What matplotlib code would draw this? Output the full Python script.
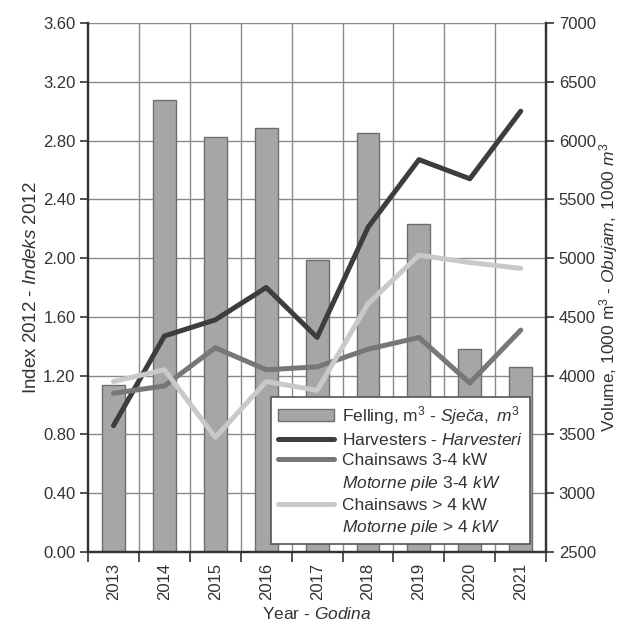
import numpy as np
import matplotlib
matplotlib.use('Agg')
from matplotlib import pyplot as plt
from matplotlib.patches import Patch
from matplotlib.lines import Line2D

plt.rcParams['font.family'] = ['Liberation Sans', 'DejaVu Sans']
plt.rcParams['mathtext.fontset'] = 'custom'
plt.rcParams['mathtext.rm'] = 'Liberation Sans'
plt.rcParams['mathtext.it'] = 'Liberation Sans:italic'

years = ['2013', '2014', '2015', '2016', '2017', '2018', '2019', '2020', '2021']
felling = [3920, 6345, 6030, 6105, 4985, 6065, 5290, 4230, 4075]
harvesters = [0.86, 1.47, 1.58, 1.80, 1.46, 2.21, 2.67, 2.54, 3.00]
saws_3_4 = [1.08, 1.13, 1.39, 1.24, 1.26, 1.38, 1.46, 1.15, 1.51]
saws_4 = [1.16, 1.24, 0.78, 1.16, 1.10, 1.69, 2.02, 1.97, 1.93]

x = np.arange(len(years))
bounds = np.arange(-0.5, len(years), 1.0)

fig = plt.figure(figsize=(6.2, 6.32), dpi=100)
ax = fig.add_axes([0.142, 0.1266, 0.739, 0.837])
ax2 = ax.twinx()
ax.set_zorder(ax2.get_zorder() + 1)
ax.patch.set_visible(False)

# bars on the right axis, grid behind them
ax2.bar(x, felling, width=0.45, bottom=0, color='#a6a6a9', edgecolor='#6e6e6e',
        linewidth=1, zorder=2)
ax2.set_ylim(2500, 7000)
ax2.set_yticks(np.arange(2500, 7001, 500))
ax2.set_axisbelow(True)
ax2.grid(True, axis='y', color='#8a8a8a', linewidth=1)
for b in bounds[1:]:
    ax2.axvline(b, color='#8a8a8a', linewidth=1, zorder=0.5)

ax.plot(x, harvesters, color='#3d3d3d', lw=3.6, solid_capstyle='round')
ax.plot(x, saws_3_4, color='#777777', lw=3.6, solid_capstyle='round')
ax.plot(x, saws_4, color='#c9c9c9', lw=3.6, solid_capstyle='round')

ax.set_ylim(0, 3.6)
ax.set_yticks(np.arange(0, 3.61, 0.4))
ax.set_yticklabels(['%.2f' % v for v in np.arange(0, 3.61, 0.4)])
ax.set_xlim(-0.5, len(years) - 0.5)

ax.set_xticks(bounds)
ax.set_xticklabels([])
ax.tick_params(axis='x', which='major', length=7, width=1.2, direction='out', color='#333333')
ax.set_xticks(x, minor=True)
ax.set_xticklabels(years, minor=True, rotation=90)
ax.tick_params(axis='x', which='minor', length=0, pad=8, labelsize=12, labelcolor='#333333')
ax.tick_params(axis='y', length=6, width=1.2, labelsize=12, labelcolor='#333333', color='#333333', pad=3)
ax2.tick_params(axis='y', length=6, width=1.2, labelsize=12, labelcolor='#333333', color='#333333', pad=3)

for a in (ax, ax2):
    a.spines['top'].set_visible(False)
    for s in ('left', 'right', 'bottom'):
        a.spines[s].set_linewidth(1.6)
        a.spines[s].set_color('#333333')

ax.set_ylabel(r'Index 2012 - $\it{Indeks\ 2012}$', fontsize=13.5, color='#333333', labelpad=2)
ax2.set_ylabel(r'Volume, 1000 m$^3$ - $\it{Obujam,\ 1000\ m^3}$', fontsize=12.5,
               color='#333333', labelpad=1)
ax.set_xlabel(r'Year - $\it{Godina}$', fontsize=12.5, color='#333333', labelpad=4)

blank = Line2D([], [], color='none')
handles = [Patch(facecolor='#a6a6a9', edgecolor='#6e6e6e'),
           Line2D([], [], color='#3d3d3d', lw=3.6, solid_capstyle='round'),
           Line2D([], [], color='#777777', lw=3.6, solid_capstyle='round'),
           blank,
           Line2D([], [], color='#c9c9c9', lw=3.6, solid_capstyle='round'),
           blank]
labels = [r'Felling, m$^3$ - $\it{Sječa,\ m^3}$',
          r'Harvesters - $\it{Harvesteri}$',
          'Chainsaws 3-4 kW',
          r'$\it{Motorne\ pile\ 3}$-$\it{4\ kW}$',
          'Chainsaws > 4 kW',
          r'$\it{Motorne\ pile}$ > $\it{4\ kW}$']
leg = ax.legend(handles, labels, loc='lower right', bbox_to_anchor=(0.965, 0.015),
                fontsize=12.5, frameon=True, fancybox=False, framealpha=1,
                handlelength=3.2, handletextpad=0.5, labelspacing=0.3,
                borderpad=0.4, borderaxespad=0)
leg.get_frame().set_edgecolor('#555555')
leg.get_frame().set_linewidth(1.2)
for t in leg.get_texts():
    t.set_color('#333333')

fig.savefig('out.png', dpi=100)
